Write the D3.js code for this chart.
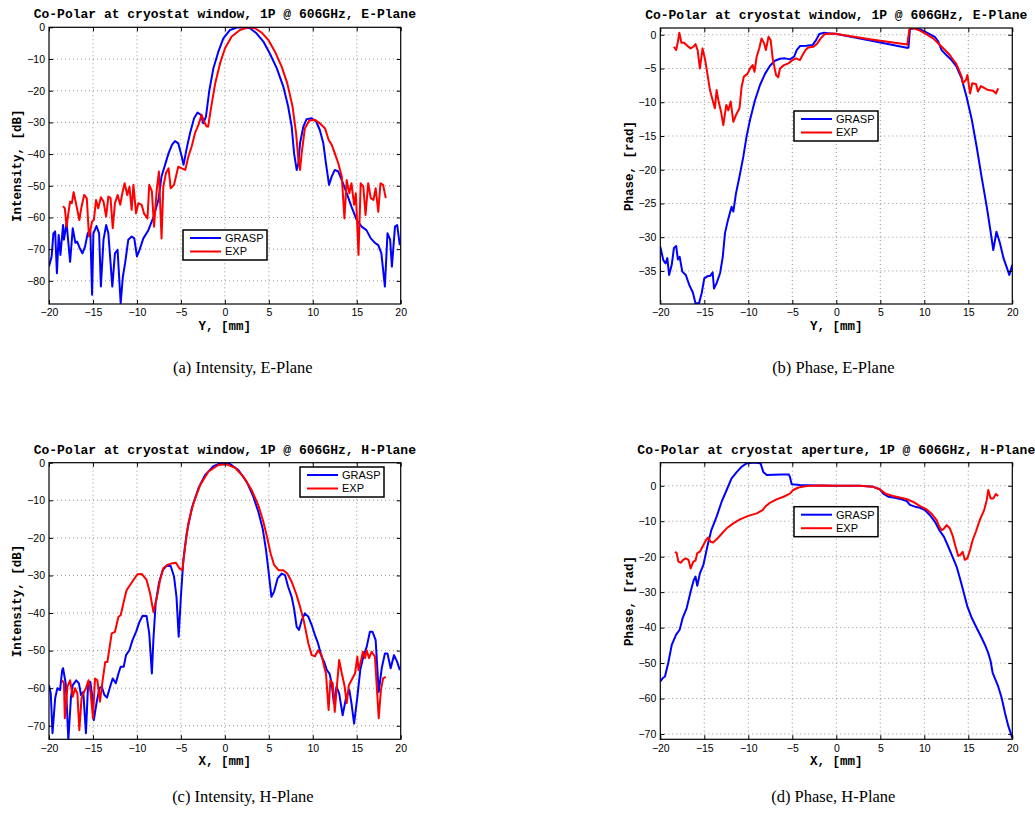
<!DOCTYPE html>
<html lang="en">
<head>
<meta charset="UTF-8">
<title>Co-Polar at cryostat window, 1P @ 606GHz</title>
<script src="https://d3js.org/d3.v7.min.js"></script>
<style>
  body { margin: 0; background: #fff; }
  .tick text { font-family: "Liberation Sans", Arial, sans-serif; font-size: 10.5px; fill: #000; }
  .tick line { stroke: #000; }
  .domain { display: none; }
  .grid line { stroke: #777; stroke-dasharray: 1,3; stroke-width: 0.8; }
  .title, .alabel { font-family: "Liberation Mono", "Courier New", monospace; font-weight: bold; fill: #000; }
  .title { font-size: 13px; }
  .alabel { font-size: 12.5px; }
  .legend text { font-family: "Liberation Sans", Arial, sans-serif; font-size: 11px; }
  .caption { font-family: "Liberation Serif", "Times New Roman", serif; font-size: 16.5px; }
  .curve { fill: none; stroke-width: 2; stroke-linejoin: round; }
</style>
</head>
<body>
<svg width="1035" height="814"></svg>
<script>
// ---- data ----
const xTicks = [-20, -15, -10, -5, 0, 5, 10, 15, 20];
const seriesNames = ["GRASP", "EXP"];

// (a) Intensity, E-Plane  [Y mm, dB]
const intensityE_grasp = [[-20,-75.5],[-19.7,-72.3],[-19.5,-65],[-19.3,-64.4],[-19.1,-77.6],[-18.9,-65.5],[-18.7,-71.8],[-18.4,-62.4],[-18.3,-67],[-18,-61.8],[-17.6,-74],[-17.3,-63.4],[-17,-68],[-16.8,-67.6],[-16.5,-69.7],[-16.2,-71.3],[-15.9,-69.2],[-15.6,-65],[-15.3,-63.9],[-15.1,-84.4],[-14.95,-65],[-14.6,-62.7],[-14.3,-65],[-14.1,-81.8],[-13.8,-67],[-13.5,-62.4],[-13.25,-65],[-12.8,-81.8],[-12.5,-71.3],[-12.2,-70.2],[-11.85,-87],[-11.6,-78.7],[-11.35,-74.5],[-10.98,-67],[-10.6,-66],[-10.3,-66.6],[-10.0,-72.3],[-9.7,-70.2],[-9.27,-66.6],[-8.7,-64],[-8.1,-59.7],[-7.56,-54.5],[-7.2,-47],[-6.8,-43.4],[-6.4,-39.7],[-6.0,-37],[-5.67,-35.9],[-5.3,-36.6],[-4.9,-40.8],[-4.7,-43.4],[-4.34,-38.2],[-3.96,-33.4],[-3.5,-28.7],[-3.1,-26.9],[-2.75,-27.6],[-2.45,-30.3],[-2.15,-28.2],[-1.76,-19.8],[-1.3,-12.9],[-0.74,-7.7],[-0.17,-3.5],[0.59,-0.84],[1.35,-0.1],[2.1,0],[2.86,-0.3],[3.6,-1.9],[4.38,-4.5],[5.1,-8.2],[5.9,-12.9],[6.65,-18.7],[7.2,-25],[7.6,-31.3],[7.87,-39.7],[8.17,-45],[8.36,-42.9],[8.55,-36.6],[8.93,-31.3],[9.3,-29],[9.88,-28.7],[10.4,-29.8],[10.8,-32.4],[11.2,-36.6],[11.5,-42.9],[11.85,-49.7],[12.15,-47.1],[12.5,-45],[12.9,-45.5],[13.3,-48.2],[13.86,-52.4],[14.4,-56.6],[15.0,-60.8],[15.56,-62.9],[16.1,-64],[16.6,-66.6],[17.1,-68.1],[17.45,-68.7],[17.8,-71.3],[18.2,-81.8],[18.5,-65],[18.8,-67],[19.0,-75.5],[19.35,-62.9],[19.6,-62.4],[19.9,-68.7]];
const intensityE_exp = [[-18.4,-56.4],[-18.2,-57.1],[-18,-62.9],[-17.8,-58.7],[-17.6,-55],[-17.4,-55.5],[-17.2,-52],[-16.85,-56.6],[-16.55,-60.8],[-16.3,-56.6],[-16.0,-52.9],[-15.7,-54],[-15.45,-66],[-15.1,-61.3],[-14.9,-60.8],[-14.65,-54.5],[-14.4,-57.1],[-14.1,-53.6],[-13.8,-55],[-13.5,-59.7],[-13.25,-53.4],[-13,-53.9],[-12.75,-63.4],[-12.5,-55.5],[-12.2,-52.9],[-11.9,-56],[-11.65,-52.2],[-11.4,-49.2],[-11.1,-52.9],[-10.85,-50.3],[-10.6,-57.6],[-10.4,-49.7],[-10.1,-58.7],[-9.84,-55.5],[-9.46,-56],[-9.2,-58.7],[-8.8,-60.3],[-8.6,-49.7],[-8.3,-51.8],[-8.05,-62.9],[-7.75,-51.3],[-7.5,-45.5],[-7.2,-66.6],[-7.0,-50.3],[-6.7,-46],[-6.4,-44.5],[-6.16,-50.8],[-5.78,-49.7],[-5.3,-44],[-4.9,-44.5],[-4.5,-45],[-4.15,-40.8],[-3.77,-37.6],[-3.4,-33.4],[-3.0,-30.8],[-2.64,-27.6],[-2.37,-29.7],[-2.07,-31.3],[-1.9,-31.3],[-1.6,-26],[-1.1,-17.7],[-0.55,-11.4],[0.02,-6.6],[0.78,-2.9],[1.72,-0.84],[2.67,0],[3.43,-0.3],[4.19,-1.7],[4.95,-4],[5.7,-7.7],[6.46,-12.4],[7.1,-17.7],[7.7,-25],[8.1,-33.4],[8.36,-41.8],[8.55,-45],[8.74,-39.7],[9.1,-31.9],[9.6,-29.4],[10.25,-29.2],[10.8,-30.3],[11.4,-31.9],[11.8,-35.5],[12.15,-37.1],[12.5,-39.7],[12.9,-42.9],[13.3,-47.1],[13.6,-60.3],[13.86,-48.2],[14.16,-52.4],[14.4,-49.2],[14.7,-56],[14.9,-52.4],[15.2,-71.8],[15.45,-49.2],[15.75,-50.3],[16.0,-59.2],[16.3,-49.2],[16.6,-53.9],[16.9,-54.5],[17.15,-50.8],[17.45,-58.2],[17.7,-49.2],[18.0,-49.7],[18.3,-53.9]];

// (b) Phase, E-Plane  [Y mm, rad]
const phaseE_grasp = [[-20,-31.4],[-19.66,-33.4],[-19.4,-33.9],[-19.2,-33.1],[-19.0,-35.6],[-18.7,-34.1],[-18.45,-31.6],[-18.2,-31.3],[-18.0,-33.3],[-17.8,-32.9],[-17.5,-35.1],[-17.1,-35.6],[-16.7,-37.1],[-16.3,-38.2],[-16.0,-39.8],[-15.6,-39.8],[-15.3,-38.3],[-15.0,-36.1],[-14.66,-35.8],[-14.3,-35.7],[-14.05,-35.2],[-13.9,-37.6],[-13.6,-36.8],[-13.2,-35.3],[-12.9,-32.9],[-12.65,-29.4],[-12.3,-27.4],[-11.9,-25.5],[-11.7,-26.2],[-11.4,-23.5],[-11.0,-21],[-10.57,-18.1],[-10.2,-15.1],[-9.8,-12.6],[-9.24,-9.7],[-8.67,-7.45],[-8.1,-5.8],[-7.54,-4.6],[-6.97,-3.85],[-6.4,-3.55],[-5.83,-3.5],[-5.27,-3.65],[-4.8,-3.26],[-4.5,-2.27],[-4.13,-1.68],[-3.4,-1.63],[-2.7,-1.53],[-2.3,-0.8],[-1.93,0.1],[-1.4,0.3],[-0.72,0.2],[0.04,0.1],[4.0,-0.9],[8.0,-1.93],[8.2,-1.93],[8.37,0.8],[8.94,1.0],[9.7,0.7],[10.45,0.2],[11.2,-0.3],[11.6,-1.04],[11.97,-2.27],[12.5,-3.0],[13.1,-3.75],[13.67,-4.74],[14.24,-6.47],[14.8,-9.2],[15.4,-12.6],[15.95,-16.6],[16.5,-21],[17.1,-25.5],[17.5,-28.9],[17.84,-31.9],[18.2,-29.2],[18.6,-30.9],[19.0,-33.1],[19.35,-34.4],[19.66,-35.6],[20,-34.1]];
const phaseE_exp = [[-18.45,-1.78],[-18.2,-2.27],[-18.0,-1.04],[-17.84,0.3],[-17.6,-1.18],[-17.3,-1.18],[-16.9,-1.68],[-16.55,-2.02],[-16.25,-1.78],[-16.0,-1.38],[-15.76,-2.27],[-15.5,-4.99],[-15.2,-2.02],[-14.9,-3.75],[-14.66,-5.7],[-14.36,-8.2],[-14.05,-9.7],[-13.8,-10.9],[-13.6,-8.2],[-13.4,-9.7],[-13.1,-11.4],[-12.84,-13.4],[-12.5,-10.4],[-12.27,-11.2],[-12.0,-9.9],[-11.7,-12.9],[-11.4,-11.9],[-11.0,-10.9],[-10.76,-7.7],[-10.5,-6.2],[-10.1,-5.8],[-9.8,-5.0],[-9.5,-4.5],[-9.3,-5.5],[-9.05,-3.26],[-8.75,-2.0],[-8.5,-0.54],[-8.2,-1.28],[-8.0,-2.27],[-7.7,-0.3],[-7.46,-0.8],[-7.23,-3.5],[-6.85,-5.97],[-6.6,-6.3],[-6.4,-5.0],[-5.95,-4.5],[-5.45,-4.24],[-4.96,-3.75],[-4.58,-3.5],[-4.13,-3.75],[-3.83,-3.0],[-3.5,-2.27],[-3.18,-1.88],[-2.6,-1.78],[-2.16,-1.28],[-1.78,-0.54],[-1.3,0.1],[-0.34,0.2],[4.0,-0.7],[8.07,-1.43],[8.3,0.8],[8.75,1.0],[9.5,0.6],[10.27,0.05],[11.0,-0.54],[11.78,-1.53],[12.35,-2.27],[12.9,-3.0],[13.3,-3.75],[13.6,-4.24],[13.86,-4.98],[14.24,-6.2],[14.4,-7.2],[14.73,-6.7],[14.9,-5.97],[15.2,-8.7],[15.45,-7.2],[15.87,-7.3],[16.1,-8.4],[16.44,-7.6],[16.9,-7.95],[17.27,-8.2],[17.84,-8.3],[18.14,-8.7],[18.4,-7.95]];

// (c) Intensity, H-Plane  [X mm, dB]
const intensityH_grasp = [[-20,-59.2],[-19.8,-61.4],[-19.6,-72],[-19.3,-62.7],[-19.05,-60],[-18.75,-60.5],[-18.5,-55.2],[-18.4,-54.7],[-18.1,-58.7],[-18,-63.2],[-17.8,-73.8],[-17.5,-62.3],[-17.3,-59.2],[-16.9,-57.9],[-16.6,-58.7],[-16.36,-61.8],[-16.1,-61],[-15.8,-72],[-15.56,-59.2],[-15.3,-58.3],[-15.1,-61.8],[-14.9,-68.5],[-14.6,-64],[-14.27,-60],[-14.0,-59.6],[-13.7,-61.8],[-13.4,-62.5],[-13.1,-60],[-12.76,-57.4],[-12.4,-58.7],[-12.1,-56.1],[-11.85,-54.3],[-11.5,-54.3],[-11.24,-51.2],[-10.86,-49.9],[-10.5,-47.2],[-10.1,-45],[-9.7,-42.3],[-9.35,-40.7],[-8.9,-40.8],[-8.6,-45.4],[-8.3,-56.1],[-8.13,-47.2],[-7.87,-37.4],[-7.5,-32.1],[-7.07,-28.6],[-6.6,-27.4],[-6.16,-27.5],[-5.78,-30.3],[-5.5,-35.7],[-5.25,-46.3],[-5.0,-35.7],[-4.72,-25.9],[-4.34,-18.8],[-3.77,-12.2],[-3.0,-6.8],[-2.26,-3.3],[-1.3,-0.9],[-0.36,0],[0.59,-0.35],[1.54,-1.95],[2.48,-5.06],[3.24,-9.05],[3.8,-13],[4.3,-17.5],[4.68,-23.2],[5.0,-29.5],[5.3,-35.7],[5.6,-34.3],[6.0,-30.8],[6.46,-29.5],[6.84,-29.9],[7.2,-33],[7.6,-35.7],[7.87,-38.8],[8.17,-43.7],[8.43,-44.5],[8.74,-41.9],[9.1,-40.1],[9.5,-41],[9.88,-43.2],[10.25,-45.9],[10.6,-48.1],[11.0,-51.6],[11.3,-53],[11.6,-55.2],[11.9,-56.1],[12.15,-58.7],[12.4,-64],[12.7,-59.6],[13.0,-61.4],[13.4,-67.2],[13.8,-62.3],[14.16,-60.5],[14.4,-64],[14.7,-69.4],[15.07,-62.3],[15.4,-55.2],[15.75,-51.6],[16.13,-49],[16.5,-45],[16.8,-45],[17.15,-47.2],[17.5,-61],[17.84,-54.7],[18.2,-50.8],[18.5,-50.8],[18.86,-54.7],[19.24,-51.2],[19.6,-53],[19.9,-55.2]];
const intensityH_exp = [[-18.5,-57.9],[-18.3,-58.7],[-18.2,-68],[-17.9,-59.6],[-17.6,-57.9],[-17.3,-62.3],[-17.04,-60],[-16.77,-61.4],[-16.55,-71.2],[-16.3,-62.7],[-16.1,-61.4],[-15.8,-60],[-15.5,-57.9],[-15.26,-61.4],[-15.0,-68],[-14.77,-57.4],[-14.5,-57.9],[-14.2,-63.6],[-13.9,-57.9],[-13.6,-53],[-13.36,-53],[-13.1,-49],[-12.87,-45.4],[-12.5,-45],[-12.1,-41],[-11.85,-40.6],[-11.5,-37],[-11.17,-33.9],[-10.8,-32.6],[-10.4,-31.2],[-9.95,-29.7],[-9.46,-29.6],[-8.9,-31.2],[-8.5,-34.8],[-8.13,-39.7],[-7.75,-36.1],[-7.37,-31.2],[-7.0,-28.1],[-6.54,-27.2],[-6.05,-26.8],[-5.56,-26.6],[-5.18,-28.1],[-4.83,-28.6],[-4.53,-22.4],[-4.15,-16.1],[-3.58,-10.8],[-2.8,-5.9],[-1.88,-2.4],[-0.74,-0.6],[0.2,-0.44],[1.16,-1.33],[2.1,-3.7],[3.05,-7.3],[3.8,-11.3],[4.38,-15.7],[4.83,-20.1],[5.2,-24.1],[5.6,-27.2],[6.1,-28.6],[6.65,-28.6],[7.1,-29.5],[7.6,-31.7],[8.1,-34.8],[8.55,-38.3],[9.0,-42.3],[9.5,-48.1],[9.88,-51.2],[10.25,-51.5],[10.6,-49.9],[11.0,-51.2],[11.3,-54.3],[11.5,-56.1],[11.8,-65.8],[12.0,-57.9],[12.27,-58.7],[12.5,-66.3],[12.8,-57.9],[13.0,-52.5],[13.3,-56.1],[13.6,-59.2],[13.86,-64],[14.1,-59.2],[14.4,-57.9],[14.8,-56.1],[15.07,-51.6],[15.2,-55.2],[15.5,-52.5],[15.7,-50.3],[15.95,-52],[16.13,-49.9],[16.4,-52],[16.7,-50.3],[17.07,-51.6],[17.27,-59.2],[17.5,-68],[17.75,-60.5],[18.0,-57.4],[18.3,-57]];

// (d) Phase, H-Plane  [X mm, rad]
const phaseH_grasp = [[-20,-55.2],[-19.7,-54.2],[-19.47,-53.8],[-19.1,-50],[-18.7,-44.9],[-18.2,-42],[-17.8,-40.6],[-17.46,-37.3],[-17.0,-34.5],[-16.55,-29.8],[-16.2,-26.6],[-16.0,-25.6],[-15.8,-28.2],[-15.5,-24.7],[-15.1,-22.3],[-14.66,-17.2],[-14.2,-12.5],[-13.6,-8.7],[-13.03,-4.5],[-12.46,-1.2],[-11.9,2.1],[-11.3,3.9],[-10.76,5.35],[-10.2,6.3],[-9.6,6.5],[-9.05,6.5],[-8.6,6.3],[-8.3,3.9],[-7.9,3.0],[-7.16,3.1],[-6.2,3.2],[-5.4,3.2],[-5.27,2.5],[-5.07,0.4],[-4.13,0.2],[-2.23,0.1],[0,0],[2.7,0],[4.2,-0.3],[4.96,-1.0],[5.34,-2.2],[5.9,-3.1],[6.67,-3.4],[7.4,-3.85],[8.0,-4.3],[8.37,-5.4],[8.94,-5.9],[9.5,-6.2],[10.07,-6.85],[10.64,-8.3],[11.2,-10.1],[11.7,-12.5],[12.24,-14.4],[12.73,-17.2],[13.2,-20],[13.67,-22.8],[14.1,-26.6],[14.5,-30.3],[14.9,-34.1],[15.4,-37.3],[15.87,-39.7],[16.44,-42.5],[16.9,-44.9],[17.27,-47.2],[17.54,-49.5],[17.77,-52.8],[18.0,-54.2],[18.4,-56.6],[18.8,-59.9],[19.17,-64.1],[19.55,-67.8],[20,-71.1]];
const phaseH_exp = [[-18.33,-18.6],[-18.14,-19],[-17.95,-21.4],[-17.65,-21.7],[-17.4,-20.9],[-17.1,-20.5],[-16.8,-20.9],[-16.55,-23.3],[-16.25,-21.4],[-16.0,-21.1],[-15.8,-19],[-15.5,-18.6],[-15.1,-16.7],[-14.8,-15.3],[-14.55,-14.6],[-14.3,-15.8],[-14.0,-16],[-13.6,-15.1],[-13.15,-13.9],[-12.46,-12],[-11.7,-10.6],[-10.95,-9.5],[-10.0,-8.5],[-9.05,-7.8],[-8.37,-6.85],[-8.0,-5.7],[-7.54,-4.8],[-6.8,-3.85],[-6.0,-3.1],[-5.27,-2.2],[-4.9,-1.2],[-4.3,-0.5],[-3.4,-0.1],[-1.9,0.1],[0,0],[2.65,0],[4.17,-0.3],[4.92,-1.0],[5.68,-2.35],[6.44,-2.9],[7.2,-3.3],[7.95,-3.75],[8.7,-4.5],[9.47,-5.7],[10.27,-6.7],[10.8,-7.8],[11.4,-9.7],[11.7,-11.5],[11.97,-12.5],[12.16,-12.3],[12.54,-11.1],[12.9,-12],[13.2,-13.9],[13.5,-16.7],[13.86,-19.8],[14.1,-19.5],[14.36,-18.6],[14.6,-20.9],[14.9,-20.4],[15.2,-18.1],[15.5,-15.3],[15.87,-12.9],[16.3,-9.7],[16.8,-6.85],[17.1,-4.0],[17.27,-1.2],[17.54,-3.6],[17.84,-3.6],[18.14,-2.35],[18.4,-2.9]];

const yTicksIntE = [-80, -70, -60, -50, -40, -30, -20, -10, 0];
const yTicksPhaseE = [-35, -30, -25, -20, -15, -10, -5, 0];
const yTicksIntH = [-70, -60, -50, -40, -30, -20, -10, 0];
const yTicksPhaseH = [-70, -60, -50, -40, -30, -20, -10, 0];

const titles = [
  "Co-Polar at cryostat window, 1P @ 606GHz, E-Plane",
  "Co-Polar at cryostat window, 1P @ 606GHz, E-Plane",
  "Co-Polar at cryostat window, 1P @ 606GHz, H-Plane",
  "Co-Polar at cryostat aperture, 1P @ 606GHz, H-Plane"
];
const captions = ["(a) Intensity, E-Plane", "(b) Phase, E-Plane", "(c) Intensity, H-Plane", "(d) Phase, H-Plane"];

// ---- layout ----
const svg = d3.select("svg");
svg.append("rect").attr("width", 1035).attr("height", 814).attr("fill", "#fff");

const panels = [
  {left: 49, right: 400.7, top: 27.3, bottom: 304, ymin: -87.3, ymax: 0, yTicks: yTicksIntE,
   grasp: intensityE_grasp, exp: intensityE_exp, xlabel: "Y, [mm]", ylabel: "Intensity, [dB]",
   legend: {x: 183, y: 230}, capY: 373},
  {left: 660.3, right: 1012.3, top: 28, bottom: 304, ymin: -39.9, ymax: 1.0, yTicks: yTicksPhaseE,
   grasp: phaseE_grasp, exp: phaseE_exp, xlabel: "Y, [mm]", ylabel: "Phase, [rad]",
   legend: {x: 794, y: 111}, capY: 373},
  {left: 49, right: 400.7, top: 462.7, bottom: 739.3, ymin: -73.6, ymax: 0, yTicks: yTicksIntH,
   grasp: intensityH_grasp, exp: intensityH_exp, xlabel: "X, [mm]", ylabel: "Intensity, [dB]",
   legend: {x: 300, y: 467}, capY: 802},
  {left: 660.3, right: 1012.3, top: 462.7, bottom: 739.3, ymin: -71.5, ymax: 6.5, yTicks: yTicksPhaseH,
   grasp: phaseH_grasp, exp: phaseH_exp, xlabel: "X, [mm]", ylabel: "Phase, [rad]",
   legend: {x: 794, y: 506.7}, capY: 802}
];

panels.forEach((p, i) => {
  const g = svg.append("g");
  const x = d3.scaleLinear().domain([-20, 20]).range([p.left, p.right]);
  const y = d3.scaleLinear().domain([p.ymin, p.ymax]).range([p.bottom, p.top]);
  const cx = (p.left + p.right) / 2;

  // grid
  const grid = g.append("g").attr("class", "grid");
  grid.selectAll(".gx").data(xTicks.slice(1, -1)).enter().append("line")
    .attr("x1", d => x(d)).attr("x2", d => x(d)).attr("y1", p.top).attr("y2", p.bottom);
  grid.selectAll(".gy").data(p.yTicks.filter(d => d > p.ymin && d < p.ymax)).enter().append("line")
    .attr("x1", p.left).attr("x2", p.right).attr("y1", d => y(d)).attr("y2", d => y(d));

  // curves
  const clipId = "clip" + i;
  g.append("clipPath").attr("id", clipId).append("rect")
    .attr("x", p.left).attr("y", p.top).attr("width", p.right - p.left).attr("height", p.bottom - p.top);
  const line = d3.line().x(d => x(d[0])).y(d => y(d[1]));
  const curves = g.append("g").attr("clip-path", `url(#${clipId})`);
  curves.append("path").attr("class", "curve").attr("stroke", "#0000ff").attr("d", line(p.grasp));
  curves.append("path").attr("class", "curve").attr("stroke", "#ff0000").attr("d", line(p.exp));

  // axes (ticks inward, box)
  g.append("g").attr("transform", `translate(0,${p.bottom})`)
    .call(d3.axisBottom(x).tickValues(xTicks).tickSizeInner(-4).tickSizeOuter(0).tickPadding(5));
  g.append("g").attr("transform", `translate(0,${p.top})`)
    .call(d3.axisTop(x).tickValues(xTicks).tickSizeInner(-4).tickSizeOuter(0).tickFormat(""));
  g.append("g").attr("transform", `translate(${p.left},0)`)
    .call(d3.axisLeft(y).tickValues(p.yTicks).tickSizeInner(-4).tickSizeOuter(0).tickPadding(4));
  g.append("g").attr("transform", `translate(${p.right},0)`)
    .call(d3.axisRight(y).tickValues(p.yTicks).tickSizeInner(-4).tickSizeOuter(0).tickFormat(""));
  g.append("rect").attr("x", p.left).attr("y", p.top)
    .attr("width", p.right - p.left).attr("height", p.bottom - p.top)
    .attr("fill", "none").attr("stroke", "#000").attr("stroke-width", 1.2);

  // texts
  g.append("text").attr("class", "title").attr("x", cx).attr("y", p.top - 9)
    .attr("text-anchor", "middle").text(titles[i]);
  g.append("text").attr("class", "alabel").attr("x", cx).attr("y", p.bottom + 26)
    .attr("text-anchor", "middle").text(p.xlabel);
  g.append("text").attr("class", "alabel")
    .attr("transform", `translate(${p.left - 32},${(p.top + p.bottom) / 2}) rotate(-90)`)
    .attr("text-anchor", "middle").attr("dy", "0.35em").text(p.ylabel);
  svg.append("text").attr("class", "caption").attr("x", cx + (i % 2 ? -3 : 18)).attr("y", p.capY)
    .attr("text-anchor", "middle").text(captions[i]);

  // legend
  const lg = g.append("g").attr("class", "legend").attr("transform", `translate(${p.legend.x},${p.legend.y})`);
  lg.append("rect").attr("width", 84).attr("height", 30).attr("fill", "#fff")
    .attr("stroke", "#000").attr("stroke-width", 1.5);
  const colors = ["#0000ff", "#ff0000"];
  seriesNames.forEach((name, k) => {
    const ly = 8 + k * 13.5;
    lg.append("line").attr("x1", 7).attr("x2", 38).attr("y1", ly).attr("y2", ly)
      .attr("stroke", colors[k]).attr("stroke-width", 2);
    lg.append("text").attr("x", 42).attr("y", ly).attr("dy", "0.36em").text(name);
  });
});
</script>
</body>
</html>
